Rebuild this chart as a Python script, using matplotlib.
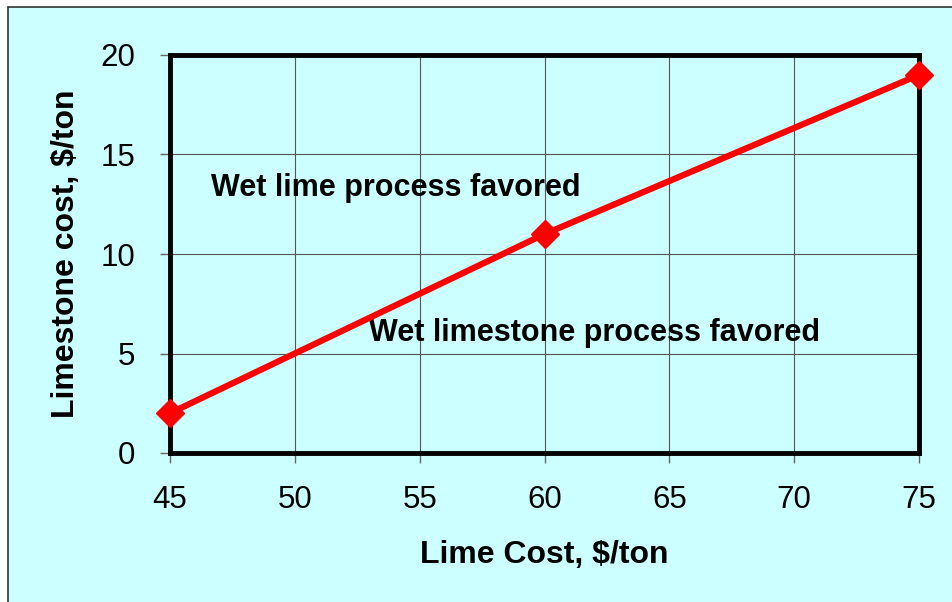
import matplotlib
matplotlib.use("Agg")
import matplotlib.pyplot as plt
from matplotlib.patches import Rectangle

# breakeven limestone cost vs lime cost
lime_cost = [45, 60, 75]
limestone_cost = [2, 11, 19]

x_ticks = [45, 50, 55, 60, 65, 70, 75]
y_ticks = [0, 5, 10, 15, 20]

BG = "#CCFFFF"

plt.rcParams["font.family"] = ["Liberation Sans", "DejaVu Sans"]

fig = plt.figure(figsize=(9.53, 6.02), dpi=100, facecolor="white")
fig.patches.append(Rectangle((8 / 953, -0.01), 1.0, 1 - 7 / 602 + 0.01,
                             transform=fig.transFigure, facecolor=BG,
                             edgecolor="#333333", linewidth=1.2, zorder=-1))

ax = fig.add_axes([170 / 953, 1 - 453 / 602, 749 / 953, 398 / 602])
ax.set_facecolor(BG)

ax.plot(lime_cost, limestone_cost, color="red", linewidth=4.5,
        marker="D", markersize=14, markeredgecolor="red", clip_on=False, zorder=5)

ax.set_xlim(45, 75)
ax.set_ylim(0, 20)
ax.set_xticks(x_ticks)
ax.set_yticks(y_ticks)
ax.grid(True, color="#555555", linewidth=0.8)
ax.set_axisbelow(True)

for s in ax.spines.values():
    s.set_linewidth(3.5)
    s.set_color("black")

ax.tick_params(axis="both", direction="out", length=7, width=1, color="#666666",
               labelsize=22.5)
ax.tick_params(axis="x", pad=16)
ax.tick_params(axis="y", pad=18)

ax.set_xlabel("Lime Cost, $/ton", fontsize=23, fontweight="bold", labelpad=18)
ax.set_ylabel("Limestone cost, $/ton", fontsize=23, fontweight="bold", labelpad=14)

ax.text(54.05, 13.3, "Wet lime process favored", fontsize=22, fontweight="bold",
        ha="center", va="center")
ax.text(62.0, 6.03, "Wet limestone process favored", fontsize=22, fontweight="bold",
        ha="center", va="center")

fig.savefig("out.png", dpi=100, facecolor=fig.get_facecolor())
